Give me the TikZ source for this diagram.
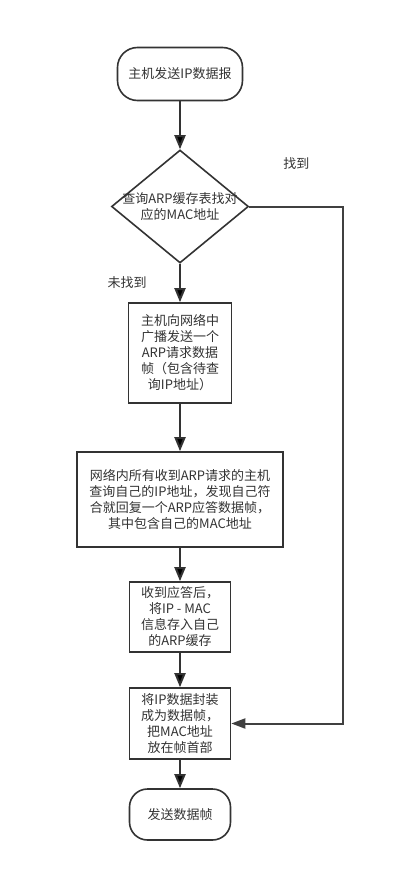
\documentclass[tikz,border=0pt]{standalone}
\usepackage{fontspec}
\setmainfont{Noto Sans CJK SC}
\usetikzlibrary{positioning,arrows.meta,shapes.geometric}
\definecolor{ink}{HTML}{333333}
\definecolor{wire}{HTML}{404040}

\begin{document}
\begin{tikzpicture}[x=1pt, y=1pt, on grid,
   every node/.style={text=ink, font=\fontsize{13pt}{16pt}\selectfont},
   term/.style={draw=ink, line width=1.6pt, rounded corners=20pt, minimum width=125pt, minimum height=53pt, align=center},
   decide/.style={draw=ink, line width=1.6pt, diamond, inner sep=0pt, minimum width=137pt, minimum height=113pt},
   proc/.style={draw=ink, line width=1.6pt, inner sep=0pt, align=center},
   flow/.style={draw=ink, line width=2pt, -{Triangle[length=14pt, width=11pt]}}]
   \useasboundingbox (0,0) rectangle (412,-872);

   \node[term] (send) at (180,-74) {主机发送IP数据报};
   \node[decide, below=132.5pt of send, label={[align=center]center:查询ARP缓存表找对\\应的MAC地址}] (lookup) {};
   \node[proc, below=146.5pt of lookup, minimum width=103pt, minimum height=100pt] (bcast) {主机向网络中\\广播发送一个\\ARP请求数据\\帧（包含待查\\询IP地址）};
   \node[proc, below=146.5pt of bcast, minimum width=206pt, minimum height=95pt] (reply) {网络内所有收到ARP请求的主机\\查询自己的IP地址，发现自己符\\合就回复一个ARP应答数据帧，\\其中包含自己的MAC地址};
   \node[proc, below=117.5pt of reply, minimum width=101pt, minimum height=70pt] (cache) {收到应答后，\\将IP - MAC\\信息存入自己\\的ARP缓存};
   \node[proc, below=106.5pt of cache, minimum width=101pt, minimum height=71pt] (frame) {将IP数据封装\\成为数据帧，\\把MAC地址\\放在帧首部};
   \node[term, below=91pt of frame, minimum width=101pt, minimum height=51pt, rounded corners=18pt] (done) {发送数据帧};

   \path[flow]
      (send) edge (lookup)
      (lookup) edge node[left, xshift=-29pt] {未找到} (bcast)
      (bcast) edge (reply)
      (reply) edge (cache)
      (cache) edge (frame)
      (frame) edge (done);
   \draw[draw=wire, line width=2pt, -{Triangle[length=14pt, width=10pt]}]
      (lookup.east) -- node[above=33pt] {找到} ++(94,0) |- (frame.east);
\end{tikzpicture}
\end{document}
